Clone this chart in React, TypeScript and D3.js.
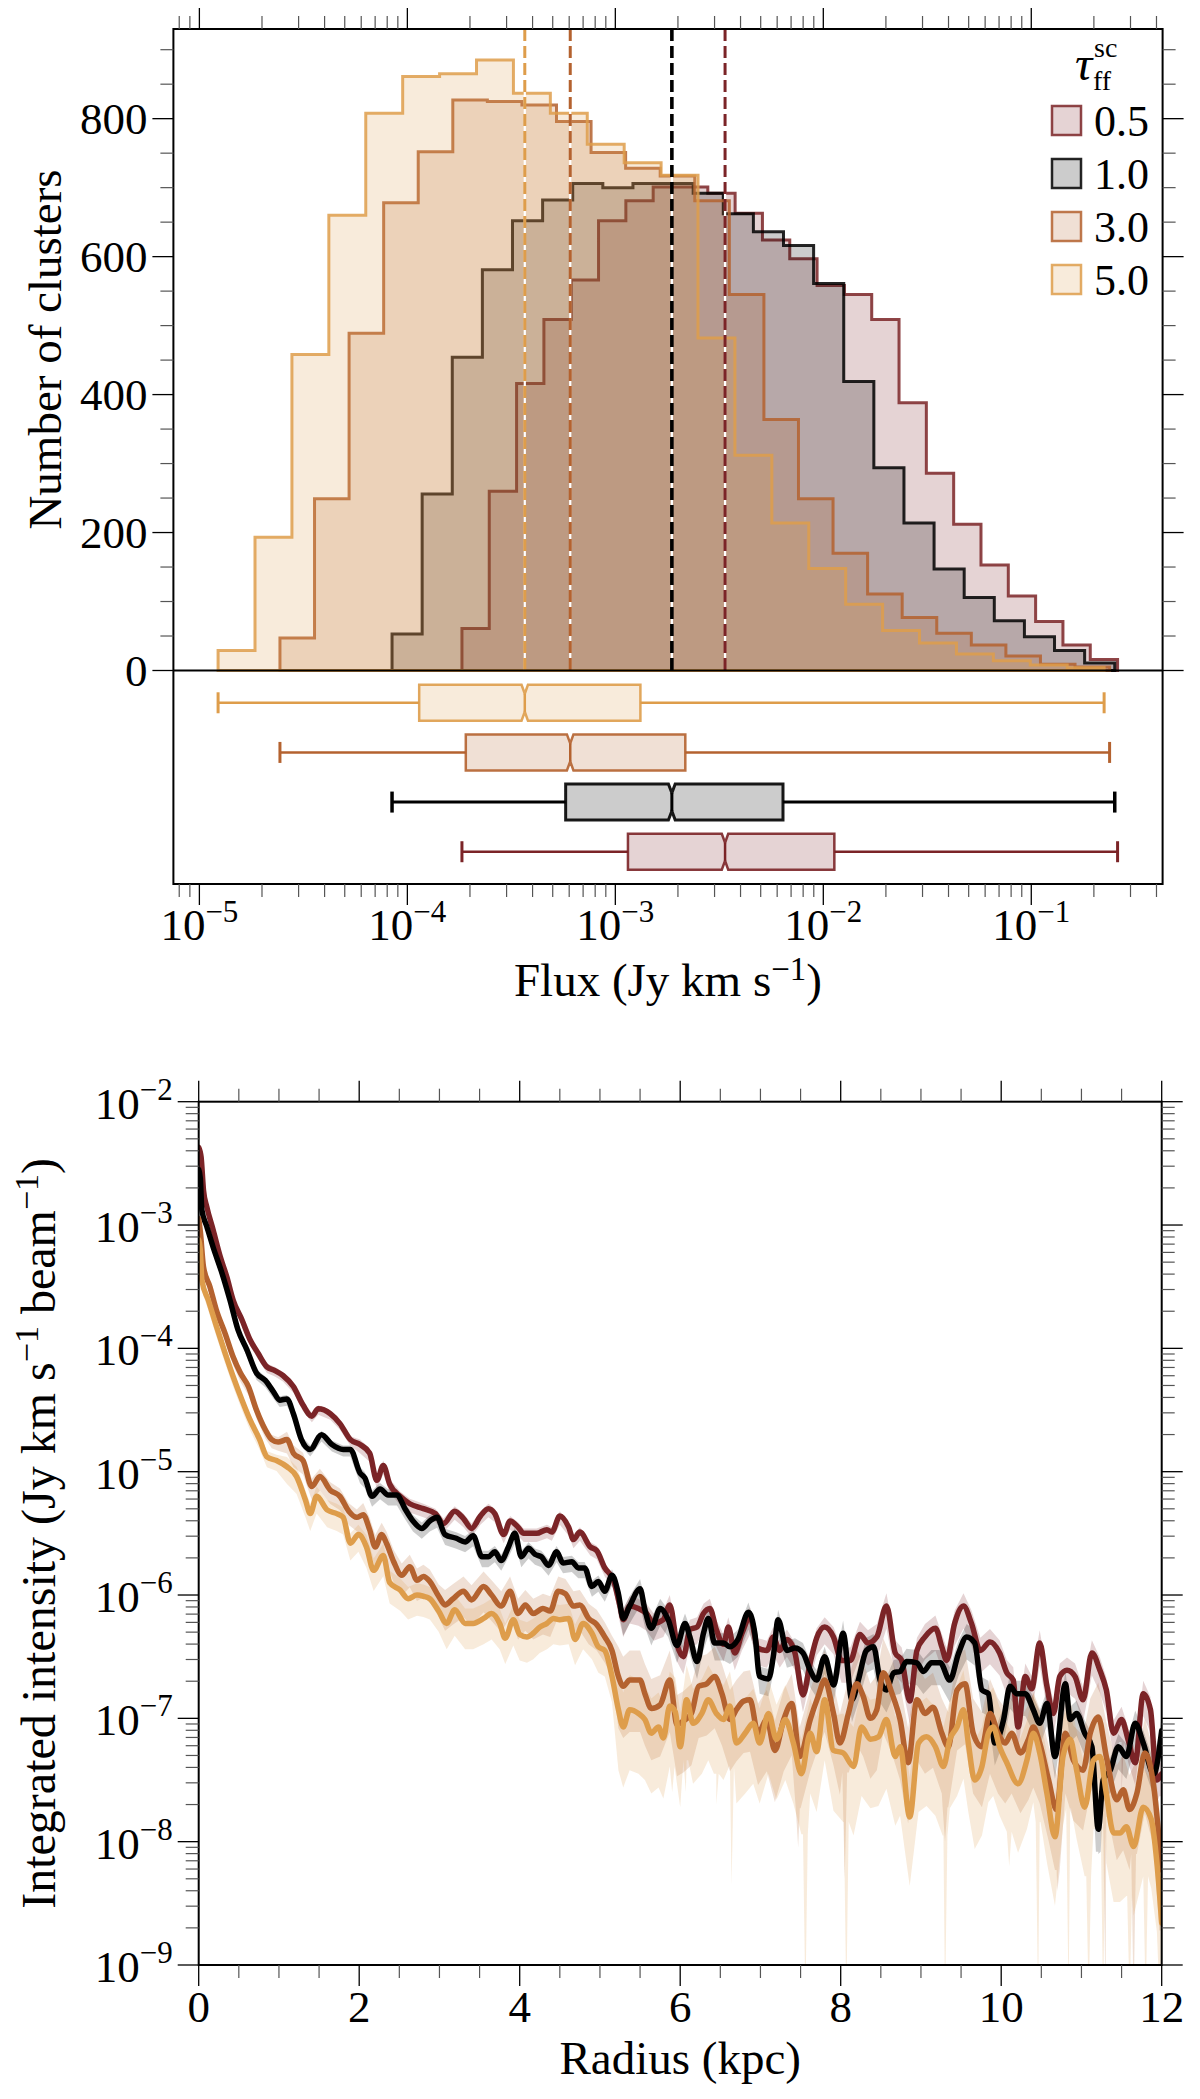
import React from "react";
import * as d3 from "d3";

// ---------------- DATA ----------------
const tauLabels = ["0.5", "1.0", "3.0", "5.0"];
const seriesColors = ["#7b2427", "#000000", "#b4622f", "#de9d4b"];

// histogram counts (24 log bins between min and max flux of each run)
const hist05 = [61, 260, 416, 509, 566, 652, 681, 701, 701, 692, 663, 624, 597, 558, 545, 509, 388, 286, 212, 153, 108, 71, 37, 16];
const hist10 = [53, 256, 454, 581, 652, 682, 706, 700, 706, 706, 692, 662, 636, 616, 561, 419, 294, 214, 147, 106, 72, 49, 29, 11];
const hist30 = [47, 249, 489, 678, 752, 827, 825, 820, 796, 751, 728, 717, 681, 545, 364, 249, 170, 111, 77, 54, 37, 21, 9, 5];
const hist50 = [29, 193, 458, 660, 808, 861, 865, 885, 837, 808, 763, 736, 718, 482, 312, 214, 148, 96, 58, 40, 24, 14, 8, 4];

// box plot statistics (Jy km/s)
const fluxMin = [1.83e-4, 8.44e-5, 2.44e-5, 1.23e-5];
const fluxMax = [0.26, 0.252, 0.238, 0.224];
const fluxQ1 = [1.15e-3, 5.77e-4, 1.91e-4, 1.14e-4];
const fluxMedian = [3.37e-3, 1.87e-3, 6.07e-4, 3.67e-4];
const fluxQ3 = [1.13e-2, 6.4e-3, 2.17e-3, 1.32e-3];
const notchLow = [3.25e-3, 1.8e-3, 5.85e-4, 3.54e-4];
const notchHigh = [3.49e-3, 1.94e-3, 6.29e-4, 3.8e-4];
const boxPositions = [4, 3, 2, 1];

// tick labels
const fluxTickExponents = [-5, -4, -3, -2, -1];
const countTicks = [0, 200, 400, 600, 800];
const radiusTicks = [0, 2, 4, 6, 8, 10, 12];
const intensityTickExponents = [-2, -3, -4, -5, -6, -7, -8, -9];

// radial profiles: [radius kpc, log10 intensity]
const profile05: [number, number][] = [
  [0.0, -2.37], [0.03, -2.45], [0.06, -2.72], [0.1, -2.85], [0.18, -3.04], [0.27, -3.26], [0.35, -3.42], [0.43, -3.61],
  [0.54, -3.77], [0.64, -3.93], [0.74, -4.04], [0.85, -4.15], [0.95, -4.18], [1.05, -4.22], [1.18, -4.31], [1.3, -4.46],
  [1.41, -4.55], [1.49, -4.49], [1.64, -4.53], [1.76, -4.61], [1.89, -4.74], [2.01, -4.78], [2.13, -4.85], [2.22, -5.07],
  [2.3, -4.95], [2.38, -5.1], [2.51, -5.2], [2.63, -5.26], [2.8, -5.3], [2.95, -5.34], [3.05, -5.42], [3.19, -5.32],
  [3.3, -5.38], [3.4, -5.46], [3.51, -5.36], [3.61, -5.3], [3.69, -5.34], [3.8, -5.51], [3.88, -5.4], [3.98, -5.45],
  [4.05, -5.5], [4.21, -5.5], [4.34, -5.47], [4.4, -5.49], [4.5, -5.36], [4.61, -5.45], [4.67, -5.55], [4.75, -5.49],
  [4.88, -5.61], [4.96, -5.64], [5.06, -5.78], [5.17, -5.88], [5.25, -6.09], [5.29, -6.2], [5.37, -6.09], [5.48, -6.11],
  [5.58, -6.15], [5.67, -6.23], [5.79, -6.2], [5.87, -6.08], [5.96, -6.4], [6.04, -6.5], [6.12, -6.28], [6.21, -6.26],
  [6.29, -6.15], [6.37, -6.11], [6.45, -6.28], [6.54, -6.4], [6.6, -6.26], [6.68, -6.47], [6.77, -6.31], [6.87, -6.18],
  [6.97, -6.43], [7.08, -6.45], [7.16, -6.34], [7.24, -6.45], [7.33, -6.36], [7.43, -6.47], [7.53, -6.81], [7.62, -6.55],
  [7.7, -6.35], [7.8, -6.26], [7.91, -6.34], [8.01, -6.53], [8.12, -6.53], [8.24, -6.32], [8.34, -6.39], [8.45, -6.34],
  [8.57, -6.09], [8.68, -6.47], [8.76, -6.53], [8.86, -6.86], [8.95, -6.45], [9.05, -6.34], [9.18, -6.27], [9.26, -6.42],
  [9.32, -6.53], [9.42, -6.23], [9.53, -6.09], [9.63, -6.23], [9.74, -6.45], [9.86, -6.38], [9.98, -6.47], [10.07, -6.63],
  [10.15, -6.69], [10.21, -7.07], [10.3, -6.66], [10.38, -6.76], [10.48, -6.39], [10.57, -6.74], [10.65, -6.96], [10.73, -6.66],
  [10.82, -6.61], [10.92, -6.66], [11.02, -6.85], [11.13, -6.47], [11.23, -6.61], [11.31, -6.77], [11.4, -7.12], [11.5, -7.01],
  [11.58, -7.17], [11.67, -7.36], [11.77, -6.8], [11.86, -6.93], [11.94, -7.5], [12.0, -7.45],
];
const profile10: [number, number][] = [
  [0.0, -2.55], [0.02, -2.62], [0.04, -2.88], [0.1, -3.01], [0.18, -3.18], [0.29, -3.39], [0.39, -3.61], [0.49, -3.85],
  [0.6, -4.01], [0.72, -4.2], [0.83, -4.26], [0.93, -4.35], [1.01, -4.42], [1.1, -4.41], [1.18, -4.53], [1.28, -4.74],
  [1.39, -4.82], [1.53, -4.7], [1.66, -4.78], [1.8, -4.82], [1.89, -4.82], [2.01, -5.01], [2.07, -5.05], [2.16, -5.2],
  [2.26, -5.14], [2.36, -5.19], [2.47, -5.19], [2.57, -5.3], [2.67, -5.4], [2.78, -5.46], [2.88, -5.4], [2.97, -5.37],
  [3.07, -5.51], [3.21, -5.54], [3.32, -5.57], [3.42, -5.52], [3.53, -5.69], [3.61, -5.69], [3.69, -5.65], [3.77, -5.72],
  [3.86, -5.61], [3.94, -5.5], [4.02, -5.69], [4.11, -5.62], [4.19, -5.67], [4.27, -5.69], [4.36, -5.76], [4.46, -5.65],
  [4.54, -5.74], [4.65, -5.73], [4.73, -5.78], [4.81, -5.78], [4.9, -5.93], [4.98, -5.89], [5.06, -5.97], [5.15, -5.84],
  [5.23, -5.99], [5.29, -6.19], [5.37, -6.09], [5.5, -5.95], [5.56, -6.12], [5.64, -6.27], [5.75, -6.11], [5.85, -6.2],
  [5.96, -6.41], [6.06, -6.23], [6.12, -6.34], [6.21, -6.54], [6.29, -6.31], [6.35, -6.19], [6.43, -6.39], [6.54, -6.39],
  [6.62, -6.42], [6.72, -6.36], [6.85, -6.14], [6.93, -6.31], [6.99, -6.66], [7.1, -6.68], [7.16, -6.5], [7.22, -6.2],
  [7.33, -6.45], [7.43, -6.43], [7.53, -6.47], [7.62, -6.61], [7.7, -6.69], [7.8, -6.5], [7.91, -6.73], [8.03, -6.31],
  [8.14, -6.85], [8.22, -6.69], [8.32, -6.45], [8.41, -6.42], [8.49, -6.69], [8.57, -6.77], [8.66, -6.63], [8.74, -6.62],
  [8.82, -6.54], [8.95, -6.55], [9.03, -6.62], [9.13, -6.55], [9.24, -6.55], [9.36, -6.69], [9.47, -6.47], [9.57, -6.34],
  [9.67, -6.39], [9.76, -6.77], [9.84, -6.8], [9.92, -7.2], [10.03, -7.01], [10.11, -6.74], [10.19, -6.8], [10.3, -6.8],
  [10.4, -6.93], [10.48, -7.04], [10.57, -6.88], [10.67, -7.31], [10.8, -6.72], [10.86, -7.01], [10.94, -6.96], [11.04, -7.12],
  [11.13, -7.23], [11.21, -7.9], [11.27, -7.5], [11.36, -7.42], [11.46, -7.23], [11.56, -7.31], [11.67, -7.04], [11.77, -7.2],
  [11.9, -7.45], [12.0, -7.1],
];
const profile30: [number, number][] = [
  [0.0, -2.95], [0.02, -3.05], [0.06, -3.34], [0.14, -3.5], [0.22, -3.69], [0.33, -3.88], [0.43, -4.07], [0.52, -4.2],
  [0.62, -4.31], [0.72, -4.5], [0.83, -4.66], [0.91, -4.74], [0.99, -4.76], [1.1, -4.74], [1.18, -4.85], [1.3, -4.91],
  [1.41, -5.12], [1.51, -5.04], [1.64, -5.15], [1.76, -5.2], [1.87, -5.32], [1.97, -5.37], [2.05, -5.35], [2.13, -5.47],
  [2.2, -5.61], [2.28, -5.51], [2.34, -5.58], [2.43, -5.73], [2.53, -5.84], [2.63, -5.77], [2.72, -5.88], [2.8, -5.85],
  [2.88, -5.89], [2.99, -6.01], [3.07, -6.08], [3.17, -6.03], [3.3, -5.97], [3.4, -6.04], [3.55, -5.93], [3.65, -6.0],
  [3.77, -6.09], [3.88, -5.97], [3.98, -6.15], [4.07, -6.08], [4.17, -6.15], [4.29, -6.11], [4.38, -6.13], [4.48, -5.97],
  [4.57, -5.99], [4.67, -6.09], [4.75, -6.08], [4.86, -6.19], [4.96, -6.24], [5.06, -6.34], [5.15, -6.45], [5.23, -6.66],
  [5.29, -6.74], [5.37, -6.69], [5.5, -6.69], [5.56, -6.8], [5.64, -6.92], [5.75, -6.89], [5.87, -6.69], [5.96, -7.05],
  [6.04, -7.02], [6.14, -6.96], [6.23, -6.74], [6.33, -6.72], [6.43, -6.66], [6.52, -6.8], [6.62, -7.01], [6.7, -6.93],
  [6.79, -6.86], [6.87, -6.85], [6.97, -7.12], [7.08, -7.01], [7.18, -7.26], [7.29, -7.01], [7.39, -6.88], [7.49, -7.31],
  [7.62, -7.01], [7.72, -6.82], [7.8, -6.69], [7.91, -6.96], [7.99, -7.2], [8.1, -6.95], [8.2, -6.72], [8.28, -6.82],
  [8.37, -7.0], [8.45, -6.93], [8.53, -6.63], [8.64, -6.8], [8.74, -7.01], [8.84, -7.36], [8.95, -6.85], [9.05, -6.96],
  [9.15, -6.91], [9.26, -7.12], [9.34, -7.23], [9.45, -6.77], [9.55, -6.72], [9.65, -7.12], [9.76, -7.23], [9.86, -6.96],
  [9.96, -7.12], [10.05, -7.2], [10.13, -7.12], [10.24, -7.28], [10.34, -7.17], [10.4, -7.07], [10.48, -7.2], [10.59, -7.5],
  [10.69, -7.74], [10.8, -7.12], [10.9, -7.34], [11.02, -7.42], [11.11, -7.12], [11.21, -6.99], [11.31, -7.31], [11.44, -7.66],
  [11.52, -7.58], [11.6, -7.74], [11.69, -7.61], [11.79, -7.28], [11.9, -7.55], [12.0, -8.23],
];
const profile50: [number, number][] = [
  [0.0, -3.12], [0.02, -3.2], [0.04, -3.45], [0.12, -3.61], [0.22, -3.82], [0.33, -4.04], [0.43, -4.23], [0.54, -4.42],
  [0.64, -4.58], [0.76, -4.74], [0.85, -4.88], [0.97, -4.91], [1.1, -4.96], [1.22, -5.04], [1.33, -5.23], [1.39, -5.34],
  [1.47, -5.2], [1.6, -5.31], [1.72, -5.34], [1.8, -5.37], [1.89, -5.58], [1.99, -5.51], [2.09, -5.61], [2.18, -5.8],
  [2.3, -5.68], [2.38, -5.9], [2.51, -5.96], [2.61, -6.03], [2.72, -6.0], [2.8, -6.01], [2.88, -6.03], [2.99, -6.13],
  [3.09, -6.23], [3.19, -6.12], [3.32, -6.23], [3.42, -6.23], [3.55, -6.19], [3.65, -6.15], [3.75, -6.23], [3.82, -6.35],
  [3.92, -6.2], [4.0, -6.32], [4.09, -6.34], [4.17, -6.31], [4.25, -6.26], [4.34, -6.23], [4.42, -6.19], [4.5, -6.2],
  [4.61, -6.19], [4.69, -6.36], [4.79, -6.23], [4.9, -6.31], [4.98, -6.42], [5.06, -6.45], [5.15, -6.66], [5.23, -6.93],
  [5.29, -7.07], [5.37, -6.93], [5.48, -6.96], [5.56, -7.01], [5.64, -7.12], [5.73, -7.07], [5.79, -7.16], [5.87, -6.9],
  [5.94, -6.95], [6.0, -7.23], [6.08, -6.85], [6.16, -7.04], [6.27, -6.96], [6.35, -6.85], [6.45, -6.96], [6.54, -7.01],
  [6.62, -6.9], [6.7, -7.2], [6.81, -7.12], [6.91, -7.04], [6.99, -7.2], [7.1, -6.96], [7.2, -7.17], [7.31, -7.01],
  [7.41, -7.2], [7.51, -7.45], [7.62, -7.12], [7.7, -7.27], [7.8, -6.85], [7.91, -7.26], [8.03, -7.28], [8.16, -7.39],
  [8.26, -7.07], [8.37, -7.17], [8.47, -7.15], [8.57, -7.01], [8.68, -7.31], [8.74, -7.23], [8.86, -7.8], [8.97, -7.2],
  [9.07, -7.15], [9.18, -7.23], [9.28, -7.39], [9.36, -7.17], [9.45, -7.07], [9.53, -6.93], [9.59, -7.2], [9.67, -7.5],
  [9.76, -7.39], [9.84, -7.12], [9.9, -7.07], [9.98, -7.23], [10.07, -7.36], [10.21, -7.53], [10.32, -7.34], [10.4, -7.12],
  [10.48, -7.28], [10.57, -7.61], [10.67, -7.96], [10.77, -7.31], [10.86, -7.17], [10.94, -7.42], [11.04, -7.72], [11.15, -7.34],
  [11.23, -7.31], [11.31, -7.61], [11.4, -7.93], [11.48, -7.93], [11.56, -7.88], [11.65, -8.04], [11.77, -7.72], [11.87, -7.82],
  [11.94, -8.17], [12.0, -8.66],
];

// spread of the shaded range (dex), piecewise from a starting radius
const bandSpread05: [number, number][] = [[0, 0.035], [2, 0.05], [5.2, 0.1], [8, 0.13]];
const bandSpread10: [number, number][] = [[0, 0.04], [2, 0.06], [5.2, 0.1], [8, 0.13]];
const bandSpread30: [number, number][] = [[0, 0.05], [1, 0.08], [2, 0.12], [3, 0.15], [5.2, 0.3], [8, 0.35]];
const bandSpread50: [number, number][] = [[0, 0.06], [1, 0.1], [2, 0.12], [3, 0.15], [5.2, 0.35], [8, 0.4]];
// deep excursions of the lower edge of the shaded range: [radius, log10 low]
const bandDips05: [number, number][] = [[11.5, -7.6], [12.0, -9.3]];
const bandDips10: [number, number][] = [[11.21, -8.1]];
const bandDips30: [number, number][] = [[7.47, -8.05], [8.05, -8.3], [9.3, -8.0], [10.7, -8.4], [11.3, -9.3], [11.65, -9.3], [12.0, -9.3]];
const bandDips50: [number, number][] = [
  [5.9, -7.6], [6.07, -7.6], [6.45, -7.7], [6.64, -8.35], [7.56, -9.3], [8.07, -9.3], [9.3, -9.3], [10.1, -8.2],
  [10.46, -9.3], [10.84, -9.3], [11.09, -9.3], [11.27, -9.3], [11.6, -9.3], [11.8, -9.3], [12.0, -9.3],
];

// ---------------- LAYOUT ----------------
const FONT = "'Liberation Serif', 'DejaVu Serif', serif";
const hist = { left: 173.4, right: 1162.6, top: 29, zero: 670.5, bottom: 884 };
const prof = { left: 198.7, right: 1161.7, top: 1101.7, bottom: 1965 };
const MAJOR = 21, MINOR = 13;

const histSeries = [hist05, hist10, hist30, hist50];
const profiles = [profile05, profile10, profile30, profile50];
const spreads = [bandSpread05, bandSpread10, bandSpread30, bandSpread50];
const dips = [bandDips05, bandDips10, bandDips30, bandDips50];

function logMinors(a: number, b: number) {
  const out: number[] = [];
  for (let e = Math.floor(Math.log10(a)) - 1; e <= Math.ceil(Math.log10(b)); e++) {
    for (let k = 2; k <= 9; k++) {
      const v = k * Math.pow(10, e);
      if (v >= a && v <= b) out.push(v);
    }
  }
  return out;
}

function spreadAt(knots: [number, number][], r: number) {
  let s = knots[0][1];
  for (const [r0, v] of knots) if (r >= r0) s = v;
  return s;
}

export default function App() {
  // --- top panel scales
  const fx = d3.scaleLog().domain([7.5e-6, 0.428]).range([hist.left, hist.right]);
  const fy = d3.scaleLinear().domain([0, 930]).range([hist.zero, hist.top]);
  const by = d3.scaleLinear().domain([0.35, 4.65]).range([hist.zero, hist.bottom]);
  const boxW = 0.725 * (by(1) - by(0));

  // --- bottom panel scales
  const rx = d3.scaleLinear().domain([0, 12]).range([prof.left, prof.right]);
  const iy = d3.scaleLog().domain([1e-9, 1e-2]).range([prof.bottom, prof.top]);

  const fluxMajors = fluxTickExponents.map((e) => Math.pow(10, e));
  const fluxMinors = logMinors(7.5e-6, 0.428);
  const intMajors = intensityTickExponents.map((e) => Math.pow(10, e));
  const intMinors = logMinors(1e-9, 1e-2);
  const countMinors = d3.range(0, 901, 50).filter((v) => v % 200 !== 0);
  const radiusMinors = d3.range(0, 12.01, 0.5).filter((v) => v % 2 !== 0);

  // histograms
  const histPaths = histSeries.map((counts, i) => {
    const lo = Math.log10(fluxMin[i]);
    const hi = Math.log10(fluxMax[i]);
    const n = counts.length;
    const edges = d3.range(n + 1).map((k) => Math.pow(10, lo + ((hi - lo) * k) / n));
    const pts: [number, number][] = [[fx(edges[0]), fy(0)]];
    counts.forEach((c, k) => {
      pts.push([fx(edges[k]), fy(c)]);
      pts.push([fx(edges[k + 1]), fy(c)]);
    });
    pts.push([fx(edges[n]), fy(0)]);
    return d3.line()(pts) + "Z";
  });

  // box plots
  const boxes = tauLabels.map((_, i) => {
    const c = by(boxPositions[i]);
    const t = c - boxW / 2, b = c + boxW / 2;
    const q = boxW / 4;
    const pts: [number, number][] = [
      [fx(fluxQ1[i]), t], [fx(notchLow[i]), t], [fx(fluxMedian[i]), t + q], [fx(notchHigh[i]), t],
      [fx(fluxQ3[i]), t], [fx(fluxQ3[i]), b], [fx(notchHigh[i]), b], [fx(fluxMedian[i]), b - q],
      [fx(notchLow[i]), b], [fx(fluxQ1[i]), b],
    ];
    return { c, t, b, q, path: d3.line()(pts) + "Z" };
  });

  // profiles
  const lineGen = d3
    .line<[number, number]>()
    .x((d) => rx(d[0]))
    .y((d) => iy(Math.pow(10, d[1])))
    .curve(d3.curveMonotoneX);
  const polyGen = d3
    .line<[number, number]>()
    .x((d) => rx(d[0]))
    .y((d) => iy(Math.pow(10, Math.max(d[1], -9.6))));

  const bandPaths = profiles.map((p, i) => {
    const upper: [number, number][] = p.map(([r, v]) => [r, v + 0.8 * spreadAt(spreads[i], r)]);
    let lower: [number, number][] = p.map(([r, v]) => [r, v - 1.4 * spreadAt(spreads[i], r)]);
    dips[i].forEach(([rd, vd]) => {
      let best = lower[0];
      for (const q of lower) if (Math.abs(q[0] - rd) < Math.abs(best[0] - rd)) best = q;
      const base = best[1];
      lower.push([Math.max(0, rd - 0.03), base], [rd, vd], [Math.min(12, rd + 0.03), base]);
    });
    lower = lower.sort((a, b) => a[0] - b[0]);
    const poly = upper.concat(lower.slice().reverse());
    return polyGen(poly) + "Z";
  });

  const txt = { fontFamily: FONT, fill: "#000" } as const;
  const tickStroke = { stroke: "#000", strokeWidth: 1.3 } as const;

  return (
    <svg
      width={1200}
      height={2099}
      viewBox="0 0 1200 2099"
      style={{ position: "absolute", left: 0, top: 0, display: "block", background: "#fff" }}
    >
      <defs>
        <clipPath id="profClip">
          <rect x={prof.left} y={prof.top} width={prof.right - prof.left} height={prof.bottom - prof.top} />
        </clipPath>
      </defs>
      <rect x={0} y={0} width={1200} height={2099} fill="#fff" />

      {/* ===== TOP PANEL: histograms ===== */}
      {histPaths.map((d, i) => (
        <path
          key={"h" + i}
          d={d}
          fill={seriesColors[i]}
          fillOpacity={0.2}
          stroke={seriesColors[i]}
          strokeOpacity={0.85}
          strokeWidth={3}
          strokeLinejoin="miter"
        />
      ))}

      {/* median markers */}
      {fluxMedian.map((m, i) => (
        <g key={"m" + i}>
          <line x1={fx(m)} x2={fx(m)} y1={hist.top} y2={hist.zero} stroke="#fff" strokeWidth={2.2} />
          <line
            x1={fx(m)}
            x2={fx(m)}
            y1={hist.top}
            y2={hist.zero}
            stroke={seriesColors[i]}
            strokeWidth={i === 1 ? 3.6 : 3}
            strokeDasharray="12 5"
          />
        </g>
      ))}

      {/* box plots */}
      {boxes.map((bx, i) => {
        const col = seriesColors[i];
        const lw = i === 1 ? 3 : 2.5;
        return (
          <g key={"b" + i}>
            <line x1={fx(fluxMin[i])} x2={fx(fluxQ1[i])} y1={bx.c} y2={bx.c} stroke={col} strokeWidth={lw} />
            <line x1={fx(fluxQ3[i])} x2={fx(fluxMax[i])} y1={bx.c} y2={bx.c} stroke={col} strokeWidth={lw} />
            <line x1={fx(fluxMin[i])} x2={fx(fluxMin[i])} y1={bx.c - 10.5} y2={bx.c + 10.5} stroke={col} strokeWidth={lw + 0.5} />
            <line x1={fx(fluxMax[i])} x2={fx(fluxMax[i])} y1={bx.c - 10.5} y2={bx.c + 10.5} stroke={col} strokeWidth={lw + 0.5} />
            <path d={bx.path} fill={col} fillOpacity={0.2} stroke={col} strokeOpacity={0.9} strokeWidth={lw} />
            <line
              x1={fx(fluxMedian[i])}
              x2={fx(fluxMedian[i])}
              y1={bx.t + bx.q}
              y2={bx.b - bx.q}
              stroke={col}
              strokeWidth={lw}
            />
          </g>
        );
      })}

      {/* frame */}
      <rect
        x={hist.left}
        y={hist.top}
        width={hist.right - hist.left}
        height={hist.bottom - hist.top}
        fill="none"
        stroke="#000"
        strokeWidth={2}
      />
      <line x1={hist.left} x2={hist.right} y1={hist.zero} y2={hist.zero} stroke="#000" strokeWidth={2} />

      {/* x ticks top & bottom */}
      {fluxMajors.map((v) => (
        <g key={"fxM" + v}>
          <line x1={fx(v)} x2={fx(v)} y1={hist.top} y2={hist.top - MAJOR} {...tickStroke} />
          <line x1={fx(v)} x2={fx(v)} y1={hist.bottom} y2={hist.bottom + MAJOR} {...tickStroke} />
        </g>
      ))}
      {fluxMinors.map((v) => (
        <g key={"fxm" + v}>
          <line x1={fx(v)} x2={fx(v)} y1={hist.top} y2={hist.top - MINOR} stroke="#555" strokeWidth={1.2} />
          <line x1={fx(v)} x2={fx(v)} y1={hist.bottom} y2={hist.bottom + MINOR} stroke="#555" strokeWidth={1.2} />
        </g>
      ))}
      {fluxTickExponents.map((e) => (
        <text key={"fxl" + e} x={fx(Math.pow(10, e))} y={940} textAnchor="middle" fontSize={45} {...txt}>
          10
          <tspan dy={-18} fontSize={31}>
            {"\u2212" + Math.abs(e)}
          </tspan>
        </text>
      ))}

      {/* y ticks left & right */}
      {countTicks.map((v) => (
        <g key={"cy" + v}>
          <line x1={hist.left} x2={hist.left - MAJOR} y1={fy(v)} y2={fy(v)} {...tickStroke} />
          <line x1={hist.right} x2={hist.right + MAJOR} y1={fy(v)} y2={fy(v)} {...tickStroke} />
          <text x={hist.left - MAJOR - 5} y={fy(v) + 15} textAnchor="end" fontSize={45} {...txt}>
            {v}
          </text>
        </g>
      ))}
      {countMinors.map((v) => (
        <g key={"cym" + v}>
          <line x1={hist.left} x2={hist.left - MINOR} y1={fy(v)} y2={fy(v)} stroke="#555" strokeWidth={1.2} />
          <line x1={hist.right} x2={hist.right + MINOR} y1={fy(v)} y2={fy(v)} stroke="#555" strokeWidth={1.2} />
        </g>
      ))}

      {/* axis labels */}
      <text transform="translate(61,349.5) rotate(-90)" textAnchor="middle" fontSize={47} {...txt}>
        Number of clusters
      </text>
      <text x={(hist.left + hist.right) / 2} y={996} textAnchor="middle" fontSize={47} {...txt}>
        Flux (Jy km s
        <tspan dy={-16} fontSize={33}>
          {"\u22121"}
        </tspan>
        <tspan dy={16}>)</tspan>
      </text>

      {/* legend */}
      <text x={1075} y={80} fontSize={48} {...txt}>
        <tspan fontStyle="italic">τ</tspan>
        <tspan x={1094} y={57} fontSize={28}>
          sc
        </tspan>
        <tspan x={1093} y={90} fontSize={28}>
          ff
        </tspan>
      </text>
      {tauLabels.map((lab, i) => (
        <g key={"lg" + i}>
          <rect
            x={1052}
            y={106 + i * 53}
            width={29}
            height={29}
            fill={seriesColors[i]}
            fillOpacity={0.2}
            stroke={seriesColors[i]}
            strokeOpacity={0.85}
            strokeWidth={2.5}
          />
          <text x={1094} y={106 + i * 53 + 30} fontSize={44} {...txt}>
            {lab}
          </text>
        </g>
      ))}

      {/* ===== BOTTOM PANEL: radial profiles ===== */}
      <g clipPath="url(#profClip)">
        {bandPaths.map((d, i) => (
          <path key={"band" + i} d={d} fill={seriesColors[i]} fillOpacity={0.2} stroke="none" />
        ))}
        {profiles.map((p, i) => (
          <path
            key={"line" + i}
            d={lineGen(p) || ""}
            fill="none"
            stroke={seriesColors[i]}
            strokeWidth={5.5}
            strokeLinejoin="round"
            strokeLinecap="round"
          />
        ))}
      </g>

      <rect
        x={prof.left}
        y={prof.top}
        width={prof.right - prof.left}
        height={prof.bottom - prof.top}
        fill="none"
        stroke="#000"
        strokeWidth={2}
      />

      {radiusTicks.map((v) => (
        <g key={"rx" + v}>
          <line x1={rx(v)} x2={rx(v)} y1={prof.top} y2={prof.top - MAJOR} {...tickStroke} />
          <line x1={rx(v)} x2={rx(v)} y1={prof.bottom} y2={prof.bottom + MAJOR} {...tickStroke} />
          <text x={rx(v)} y={2022} textAnchor="middle" fontSize={45} {...txt}>
            {v}
          </text>
        </g>
      ))}
      {radiusMinors.map((v) => (
        <g key={"rxm" + v}>
          <line x1={rx(v)} x2={rx(v)} y1={prof.top} y2={prof.top - MINOR} stroke="#555" strokeWidth={1.2} />
          <line x1={rx(v)} x2={rx(v)} y1={prof.bottom} y2={prof.bottom + MINOR} stroke="#555" strokeWidth={1.2} />
        </g>
      ))}
      {intMajors.map((v, k) => (
        <g key={"iy" + k}>
          <line x1={prof.left} x2={prof.left - MAJOR} y1={iy(v)} y2={iy(v)} {...tickStroke} />
          <line x1={prof.right} x2={prof.right + MAJOR} y1={iy(v)} y2={iy(v)} {...tickStroke} />
          <text x={prof.left - MAJOR - 5} y={iy(v) + 17} textAnchor="end" fontSize={45} {...txt}>
            10
            <tspan dy={-19} fontSize={31}>
              {"\u2212" + Math.abs(intensityTickExponents[k])}
            </tspan>
          </text>
        </g>
      ))}
      {intMinors.map((v, k) => (
        <g key={"iym" + k}>
          <line x1={prof.left} x2={prof.left - MINOR} y1={iy(v)} y2={iy(v)} stroke="#555" strokeWidth={1.2} />
          <line x1={prof.right} x2={prof.right + MINOR} y1={iy(v)} y2={iy(v)} stroke="#555" strokeWidth={1.2} />
        </g>
      ))}

      <text x={(prof.left + prof.right) / 2} y={2074} textAnchor="middle" fontSize={47} {...txt}>
        Radius (kpc)
      </text>
      <text
        transform={`translate(55,${(prof.top + prof.bottom) / 2}) rotate(-90)`}
        textAnchor="middle"
        fontSize={48}
        {...txt}
      >
        Integrated intensity (Jy km s
        <tspan dy={-17} fontSize={34}>
          {"\u22121"}
        </tspan>
        <tspan dy={17}> beam</tspan>
        <tspan dy={-17} fontSize={34}>
          {"\u22121"}
        </tspan>
        <tspan dy={17}>)</tspan>
      </text>
    </svg>
  );
}
